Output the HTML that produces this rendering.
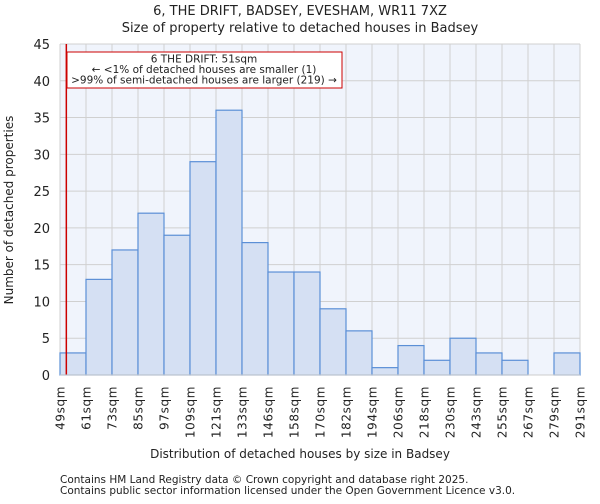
<!DOCTYPE html>
<html><head><meta charset="utf-8"><style>
body{margin:0;background:#fff;font-family:"DejaVu Sans","Liberation Sans",sans-serif;}
svg text{font-family:"DejaVu Sans","Liberation Sans",sans-serif;fill:#222;}
</style></head><body>
<svg id="c" width="600" height="500">
<text x="300" y="15" text-anchor="middle" font-size="13">6, THE DRIFT, BADSEY, EVESHAM, WR11 7XZ</text>
<text x="300" y="32" text-anchor="middle" font-size="13">Size of property relative to detached houses in Badsey</text>
<rect x="60" y="44" width="520" height="331" fill="#f0f4fc"/>
<g id="grid"></g><g id="bars"></g><g id="axes"></g>
<text x="300" y="458" text-anchor="middle" font-size="12">Distribution of detached houses by size in Badsey</text>
<text transform="translate(13,210) rotate(-90)" text-anchor="middle" font-size="12">Number of detached properties</text>
<text x="60" y="483" font-size="10.5" fill="#444">Contains HM Land Registry data © Crown copyright and database right 2025.</text>
<text x="60" y="494" font-size="10.5" fill="#444">Contains public sector information licensed under the Open Government Licence v3.0.</text>
</svg>
<script>
const categories=["49sqm","61sqm","73sqm","85sqm","97sqm","109sqm","121sqm","133sqm","146sqm","158sqm","170sqm","182sqm","194sqm","206sqm","218sqm","230sqm","243sqm","255sqm","267sqm","279sqm","291sqm"];
const counts=[3,13,17,22,19,29,36,18,14,14,9,6,1,4,2,5,3,2,0,3];
const yTicks=[0,5,10,15,20,25,30,35,40,45];
const markerValue=51;
const binStart=49, binWidth=12;
const NS="http://www.w3.org/2000/svg";
const X0=60,X1=580,Y0=375,Y1=44,YMAX=45;
const bw=(X1-X0)/counts.length;
const xi=i=>X0+i*bw;
const xv=v=>X0+(v-binStart)/binWidth*bw;
const y=v=>Y0-(v/YMAX)*(Y0-Y1);
function mk(t,a,p){const e=document.createElementNS(NS,t);for(const k in a)e.setAttribute(k,a[k]);p.appendChild(e);return e;}
const grid=document.getElementById('grid'),bars=document.getElementById('bars'),axes=document.getElementById('axes');
yTicks.forEach(v=>{
 const l=mk('line',{x1:X0,x2:X1,y1:y(v),y2:y(v),stroke:'#d0d0d0'},grid);
 
 
 const t=mk('text',{x:X0-10,y:y(v)+5,'text-anchor':'end','font-size':13},axes);
 t.textContent=v;
 
 
});
categories.forEach((c,i)=>{
 const l=mk('line',{x1:xi(i),x2:xi(i),y1:Y1,y2:Y0,stroke:'#d0d0d0'},grid);
 
 
 const t=mk('text',{transform:`translate(${xi(i)+4.5},386) rotate(-90)`,'text-anchor':'end','font-size':12,'letter-spacing':0.6},axes);
 t.textContent=c;
 
 
});
counts.forEach((v,i)=>{
 if(v<=0)return;
 const r=mk('rect',{x:xi(i),y:y(v),width:bw,height:Y0-y(v),fill:'#d5e0f3',stroke:'#5b8fd6','stroke-width':1.2},bars);
 
 
});
const ml=mk('line',{x1:xv(markerValue)+2,x2:xv(markerValue)+2,y1:Y1,y2:Y0,stroke:'#cc0000','stroke-width':1.5},axes);


const box=mk('rect',{x:67,y:52,width:275,height:36,fill:'#fff',stroke:'#cc0000'},axes);


["6 THE DRIFT: 51sqm","← <1% of detached houses are smaller (1)",">99% of semi-detached houses are larger (219) →"].forEach((s,k)=>{
 const t=mk('text',{x:204,y:62.5+k*10.5,'text-anchor':'middle','font-size':10.5},axes);
 t.textContent=s;
 
 
});
const bx=mk('line',{x1:X0,x2:X1,y1:Y0,y2:Y0,stroke:'#ccc'},axes);


</script>
</body></html>
